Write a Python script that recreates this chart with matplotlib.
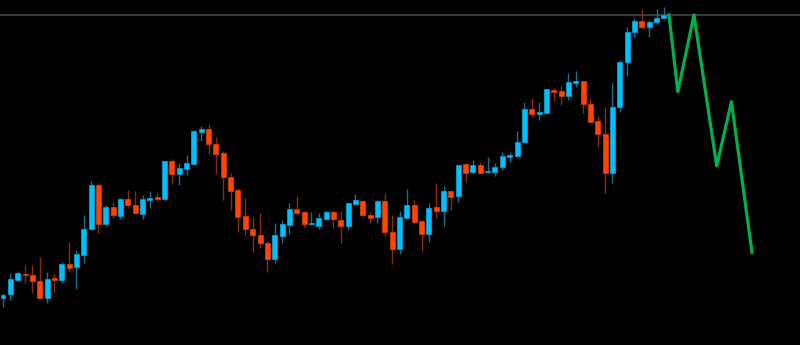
import numpy as np
import matplotlib
matplotlib.use("Agg")
import matplotlib.pyplot as plt

# OHLC per candle (price units)
opens = [47, 50.7, 65.3, 71, 70, 64, 46.7, 67.3, 65, 80.7, 78, 90.3, 115.7, 160, 121, 138, 129.3, 146.3, 140, 131.3,
         145.3, 147.7, 145.7, 183.7, 170.7, 176.3, 181.3, 213, 216.3, 201, 192, 168, 155.3, 128.7, 116, 110, 101.7, 85.7,
         109.3, 120.3, 136, 132.7, 120.7, 119.3, 126.3, 132.7, 125.3, 119, 140.7, 144.3, 130, 128, 144, 113, 96.3, 127.3,
         140.3, 123.7, 111.3, 137.7, 134.3, 154.3, 149, 181, 172.7, 180, 173, 173, 178.3, 188.3, 189, 202.7, 236, 231.3,
         232.3, 255.3, 254, 249.3, 262.3, 263.7, 240.7, 224, 210.7, 172.3, 237.7, 283, 312.7, 323.7, 318.3, 322.7, 326.7]
highs = [52.3, 71.7, 74.3, 80, 80.3, 88.3, 73.3, 70.7, 82.7, 103.3, 95, 130, 164.3, 162.3, 140, 143.3, 146.7, 155, 154, 150,
         154, 152.3, 184.3, 185.7, 182.3, 190, 215, 219, 221, 208.3, 194, 171.7, 156.7, 146.7, 127.7, 131.7, 104.3, 121.7,
         125, 142.3, 149, 134.3, 133.3, 131.7, 135, 135, 134, 142.7, 151.3, 145, 133.3, 145, 152.3, 130, 134, 156,
         145, 125, 141.7, 162.3, 159, 154.3, 180, 181, 185, 182.7, 187.7, 181.7, 193.3, 193.3, 214, 243.3, 247.3, 243.3,
         256.3, 256.7, 259, 272.3, 274, 263.7, 246.7, 229.3, 238.3, 262.3, 285, 318.3, 327.3, 336, 325, 336, 338.3]
lows = [38.3, 45, 65, 62, 51.7, 45.7, 42.3, 52.3, 62.3, 72.7, 56.3, 82.3, 115.7, 111.7, 120, 127.3, 125.7, 138.3, 131, 126,
        136.7, 143.7, 145, 161, 160, 170, 181, 204.3, 190.7, 170.7, 145, 135, 113.3, 110, 93.3, 96.7, 73.3, 81.7,
        102.3, 111, 130, 118.3, 120, 116, 125, 117, 102.3, 115, 140, 129, 121.7, 122.3, 109, 81, 91, 126.7,
        122.3, 94.3, 102.7, 126.7, 119, 135, 143.3, 163.3, 171.7, 171.7, 171.7, 169, 175, 183, 188.3, 202.7, 228.3, 225,
        232.3, 244, 240, 245, 257.7, 231.7, 222.7, 197.7, 151.7, 161.7, 232.7, 269.3, 307.7, 315.7, 308.3, 320.7, 326.7]
closes = [50, 66, 71.7, 69.7, 64.3, 46.7, 66, 65.3, 80.7, 77.3, 90.7, 116, 160, 121.3, 138, 129.7, 145.7, 139.7, 131.7, 146.3,
          147.3, 145.7, 183.7, 170.7, 177.3, 182, 213.7, 215.7, 200.7, 191.3, 167.7, 154.3, 127.7, 115.7, 110, 101.7, 85.7, 109.7,
          120.7, 135.7, 132, 121, 122, 127.3, 132.7, 125.7, 118.7, 141.7, 144.7, 129.7, 127.3, 144, 112.7, 96.3, 128, 140,
          123, 111, 137.3, 134, 154.3, 148.3, 180, 172.3, 180, 172.3, 174, 177.7, 189, 190, 203.3, 236, 231, 233,
          255.7, 253, 249.3, 263.3, 264.3, 240.7, 223.3, 211, 171.7, 237.7, 283, 312.7, 323.7, 317.7, 323.3, 327.3, 330]

# projection line (bar index, price)
proj_x = [90.7, 91.9, 94.1, 97.2, 99.2, 102.0]
proj_y = [330, 253.3, 330, 179, 243.3, 92.7]

level = 330

up_body, dn_body = '#00bfff', '#ff4500'
up_wick, dn_wick = '#17708f', '#8a2c0a'

fig = plt.figure(figsize=(8, 3.45), dpi=100, facecolor='black')
ax = fig.add_axes([0, 0, 1, 1])
ax.set_facecolor('black')

o = np.array(opens); c = np.array(closes)
h = np.array(highs); l = np.array(lows)
x = np.arange(len(o))
up = c >= o

ax.axhline(level, color='#3c4146', lw=1.3, zorder=1)

ax.vlines(x[up], l[up], h[up], color=up_wick, lw=1.0, zorder=2)
ax.vlines(x[~up], l[~up], h[~up], color=dn_wick, lw=1.0, zorder=2)

bottom = np.minimum(o, c)
height = np.maximum(np.abs(c - o), 1.2)
ax.bar(x[up], height[up], bottom=bottom[up], width=0.68, color=up_body,
       edgecolor='#0a9ccc', linewidth=0.6, zorder=3)
ax.bar(x[~up], height[~up], bottom=bottom[~up], width=0.68, color=dn_body,
       edgecolor='#d63a05', linewidth=0.6, zorder=3)

ax.plot(proj_x, proj_y, color='#00b04f', lw=2.3, zorder=4)

ax.set_xlim(-0.409, 108.54)
ax.set_ylim(0, 345)
ax.axis('off')

plt.savefig('out.png', dpi=100, facecolor='black')
